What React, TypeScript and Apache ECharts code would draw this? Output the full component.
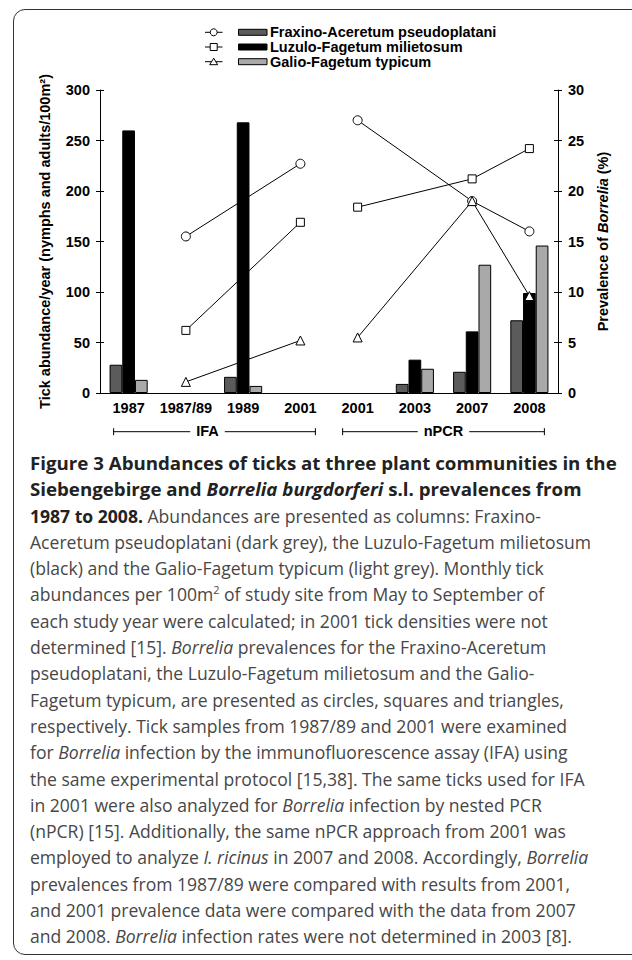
import React, { useEffect, useLayoutEffect, useRef, useState } from 'react';
import * as echarts from 'echarts';

// ---------- data ----------
const categories = ['1987', '1987/89', '1989', '2001', '2001', '2003', '2007', '2008'];
const communities = ['Fraxino-Aceretum pseudoplatani', 'Luzulo-Fagetum milietosum', 'Galio-Fagetum typicum'];
const fraxinoAbundance = [28, null, 16, null, null, 9, 21, 72];
const luzuloAbundance = [260, null, 268, null, null, 33, 61, 99];
const galioAbundance = [13, null, 7, null, null, 24, 127, 146];
const fraxinoPrevalence = [null, 15.5, null, 22.7, 27.0, null, 19.0, 16.0];
const luzuloPrevalence = [null, 6.2, null, 16.9, 18.4, null, 21.2, 24.2];
const galioPrevalence = [null, 1.1, null, 5.2, 5.5, null, 19.0, 9.6];
const methodGroups = ['IFA', 'nPCR'];
const methodStart = [0, 4];
const methodEnd = [3, 7];
const leftAxisMax = 300;
const leftAxisStep = 50;
const rightAxisMax = 30;
const rightAxisStep = 5;

const barColors = ['#5b5b5b', '#000000', '#a9a9a9'];
const symbols = ['circle', 'rect', 'triangle'];
const symbolSizes = [9, 8, 9];

type Seg = [string, string];
const captionLines: Seg[][] = [
  [['Figure 3 Abundances of ticks at three plant communities in the', 'b']],
  [['Siebengebirge and ', 'b'], ['Borrelia burgdorferi', 'bi'], [' s.l. prevalences from', 'b']],
  [['1987 to 2008.', 'b'], [' Abundances are presented as columns: Fraxino-', 'r']],
  [['Aceretum pseudoplatani (dark grey), the Luzulo-Fagetum milietosum', 'r']],
  [['(black) and the Galio-Fagetum typicum (light grey). Monthly tick', 'r']],
  [['abundances per 100m', 'r'], ['2', 'sup'], [' of study site from May to September of', 'r']],
  [['each study year were calculated; in 2001 tick densities were not', 'r']],
  [['determined [15]. ', 'r'], ['Borrelia', 'i'], [' prevalences for the Fraxino-Aceretum', 'r']],
  [['pseudoplatani, the Luzulo-Fagetum milietosum and the Galio-', 'r']],
  [['Fagetum typicum, are presented as circles, squares and triangles,', 'r']],
  [['respectively. Tick samples from 1987/89 and 2001 were examined', 'r']],
  [['for ', 'r'], ['Borrelia', 'i'], [' infection by the immunofluorescence assay (IFA) using', 'r']],
  [['the same experimental protocol [15,38]. The same ticks used for IFA', 'r']],
  [['in 2001 were also analyzed for ', 'r'], ['Borrelia', 'i'], [' infection by nested PCR', 'r']],
  [['(nPCR) [15]. Additionally, the same nPCR approach from 2001 was', 'r']],
  [['employed to analyze ', 'r'], ['I. ricinus', 'i'], [' in 2007 and 2008. Accordingly, ', 'r'], ['Borrelia', 'i']],
  [['prevalences from 1987/89 were compared with results from 2001,', 'r']],
  [['and 2001 prevalence data were compared with the data from 2007', 'r']],
  [['and 2008. ', 'r'], ['Borrelia', 'i'], [' infection rates were not determined in 2003 [8].', 'r']],
];

const FONT = '"Liberation Sans", Arial, Helvetica, sans-serif';
const FS = 14.5;

export default function App() {
  const ref = useRef<HTMLDivElement>(null);
  const lineRefs = useRef<(HTMLSpanElement | null)[]>([]);
  const [scales, setScales] = useState<[number, number]>([1, 1]);

  useLayoutEffect(() => {
    const a = lineRefs.current[0];
    const b = lineRefs.current[captionLines.length - 1];
    if (a && b) {
      setScales([587 / a.offsetWidth, 542 / b.offsetWidth]);
    }
  }, []);

  useEffect(() => {
    const chart = echarts.init(ref.current!, null, { renderer: 'svg' });
    const labelStyle = { color: '#000', fontSize: FS, fontWeight: 'bold' as const, fontFamily: FONT };
    const abund = [fraxinoAbundance, luzuloAbundance, galioAbundance];
    const prev = [fraxinoPrevalence, luzuloPrevalence, galioPrevalence];

    const barSeries = abund.map((d, k) => ({
      type: 'bar',
      name: communities[k] + ' abundance',
      data: d,
      barWidth: 12.7,
      barGap: '0%',
      itemStyle: { color: barColors[k], borderColor: '#000', borderWidth: 1 },
      z: 2,
    }));
    const lineSeries: any[] = [];
    prev.forEach((d, k) => {
      methodGroups.forEach((g, gi) => {
        lineSeries.push({
          type: 'line',
          name: communities[k] + ' prevalence ' + g,
          yAxisIndex: 1,
          data: d.map((v, i) => (i >= methodStart[gi] && i <= methodEnd[gi] ? v : null)),
          connectNulls: true,
          symbol: symbols[k],
          symbolSize: symbolSizes[k],
          showAllSymbol: true,
          itemStyle: { color: '#fff', borderColor: '#000', borderWidth: 1 },
          lineStyle: { color: '#000', width: 1 },
          z: 4,
        });
      });
    });

    const baseY = {
      type: 'value',
      min: 0,
      splitLine: { show: false },
    };

    chart.setOption({
      animation: false,
      textStyle: { fontFamily: FONT },
      grid: { left: 100, right: 74, top: 90, bottom: 47 },
      xAxis: {
        type: 'category',
        data: categories,
        axisLine: { lineStyle: { color: '#000', width: 1 } },
        axisTick: { show: false },
        axisLabel: { ...labelStyle, interval: 0, margin: 7 },
      },
      yAxis: [
        {
          ...baseY,
          position: 'left',
          max: leftAxisMax,
          interval: leftAxisStep,
          axisLine: { show: true, lineStyle: { color: '#000', width: 1 } },
          axisTick: { show: true, length: 4, lineStyle: { color: '#000' } },
          axisLabel: { ...labelStyle, margin: 10 },
          name: 'Tick abundance/year (nymphs and adults/100m²)',
          nameLocation: 'middle',
          nameGap: 48,
          nameRotate: 90,
          nameTextStyle: { ...labelStyle },
        },
        {
          ...baseY,
          position: 'right',
          max: rightAxisMax,
          interval: rightAxisStep,
          axisLine: { show: true, lineStyle: { color: '#000', width: 1 } },
          axisTick: { show: true, length: 4, lineStyle: { color: '#000' } },
          axisLabel: { ...labelStyle, margin: 10 },
          name: '{n|Prevalence of }{i|Borrelia}{n| (%)}',
          nameLocation: 'middle',
          nameGap: 37,
          nameRotate: 90,
          nameTextStyle: {
            ...labelStyle,
            rich: {
              n: { ...labelStyle },
              i: { ...labelStyle, fontStyle: 'italic' },
            },
          },
        },
        {
          ...baseY,
          position: 'left',
          max: leftAxisMax,
          interval: leftAxisStep,
          axisLine: { show: false },
          axisTick: { show: true, inside: true, length: 4, lineStyle: { color: '#000' } },
          axisLabel: { show: false },
        },
        {
          ...baseY,
          position: 'right',
          max: rightAxisMax,
          interval: rightAxisStep,
          axisLine: { show: false },
          axisTick: { show: true, inside: true, length: 4, lineStyle: { color: '#000' } },
          axisLabel: { show: false },
        },
      ],
      series: [...barSeries, ...lineSeries],
    });

    const px = (i: number) => chart.convertToPixel({ xAxisIndex: 0 }, i) as number;
    const y0 = chart.convertToPixel({ yAxisIndex: 0 }, 0) as number;
    const yb = y0 + 38.7;
    const graphics: any[] = [];

    // method brackets
    const textOffsets = [-7, 0];
    methodGroups.forEach((g, gi) => {
      const xl = px(methodStart[gi]) - 15;
      const xr = px(methodEnd[gi]) + 15;
      graphics.push(
        { type: 'line', shape: { x1: xl, y1: yb, x2: xr, y2: yb }, style: { stroke: '#000', lineWidth: 1 }, z: 10 },
        { type: 'line', shape: { x1: xl, y1: yb - 3.5, x2: xl, y2: yb + 3.5 }, style: { stroke: '#000', lineWidth: 1 }, z: 10 },
        { type: 'line', shape: { x1: xr, y1: yb - 3.5, x2: xr, y2: yb + 3.5 }, style: { stroke: '#000', lineWidth: 1 }, z: 10 },
        {
          type: 'text',
          x: (xl + xr) / 2 + textOffsets[gi],
          y: yb - 1,
          z: 11,
          style: {
            text: g,
            align: 'center',
            verticalAlign: 'middle',
            fill: '#000',
            fontSize: FS,
            fontWeight: 'bold',
            fontFamily: FONT,
            backgroundColor: '#fff',
            padding: [0, 6],
          },
        }
      );
    });

    // legend
    const rowY = [32.3, 47, 61.7];
    communities.forEach((c, k) => {
      const y = rowY[k];
      const cx = 213.7;
      graphics.push({ type: 'line', shape: { x1: 205, y1: y, x2: 222.5, y2: y }, style: { stroke: '#000', lineWidth: 1 }, z: 10 });
      if (k === 0) {
        graphics.push({ type: 'circle', shape: { cx, cy: y, r: 3.5 }, style: { fill: '#fff', stroke: '#000', lineWidth: 1 }, z: 11 });
      } else if (k === 1) {
        graphics.push({ type: 'rect', shape: { x: cx - 3.5, y: y - 3.5, width: 7, height: 7 }, style: { fill: '#fff', stroke: '#000', lineWidth: 1 }, z: 11 });
      } else {
        graphics.push({ type: 'polygon', shape: { points: [[cx - 4, y + 3], [cx, y - 3.5], [cx + 4, y + 3]] }, style: { fill: '#fff', stroke: '#000', lineWidth: 1 }, z: 11 });
      }
      graphics.push({ type: 'rect', shape: { x: 238.5, y: y - 3, width: 28.5, height: 6 }, style: { fill: barColors[k], stroke: '#000', lineWidth: 1 }, z: 10 });
      graphics.push({
        type: 'text',
        x: 270,
        y,
        z: 10,
        style: { text: c, fill: '#000', fontSize: FS, fontWeight: 'bold', fontFamily: FONT, verticalAlign: 'middle', align: 'left' },
      });
    });

    chart.setOption({ graphic: graphics });
    return () => chart.dispose();
  }, []);

  const segStyle = (t: string): React.CSSProperties => {
    if (t === 'b') return { fontWeight: 700, color: '#222' };
    if (t === 'bi') return { fontWeight: 700, fontStyle: 'italic', color: '#222' };
    if (t === 'i') return { fontStyle: 'italic' };
    if (t === 'sup') return { fontSize: '0.62em', verticalAlign: 'super', lineHeight: 0 };
    return {};
  };

  return (
    <div style={{ position: 'fixed', left: 0, top: 0, width: 632, height: 960, overflow: 'hidden', background: '#fff' }}>
      <div
        style={{
          position: 'absolute',
          left: 13,
          top: 9,
          width: 660,
          height: 946,
          border: '1.5px solid #333',
          borderRadius: 12,
          boxSizing: 'border-box',
        }}
      />
      <div ref={ref} style={{ position: 'absolute', left: 0, top: 0, width: 632, height: 440 }} />
      <div
        style={{
          position: 'absolute',
          left: 30,
          top: 450,
          fontFamily: '"Open Sans", "Noto Sans", sans-serif',
          fontSize: 18.5,
          lineHeight: '26.3px',
          color: '#474747',
        }}
      >
        {captionLines.map((segs, i) => (
          <div key={i} style={{ whiteSpace: 'nowrap', height: 26.3 }}>
            <span
              ref={(el) => {
                lineRefs.current[i] = el;
              }}
              style={{
                display: 'inline-block',
                transform: `scaleX(${i < 2 ? scales[0] : scales[1]})`,
                transformOrigin: '0 0',
              }}
            >
              {segs.map(([txt, t], j) =>
                t === 'sup' ? (
                  <sup key={j} style={segStyle(t)}>
                    {txt}
                  </sup>
                ) : (
                  <span key={j} style={segStyle(t)}>
                    {txt}
                  </span>
                )
              )}
            </span>
          </div>
        ))}
      </div>
    </div>
  );
}
